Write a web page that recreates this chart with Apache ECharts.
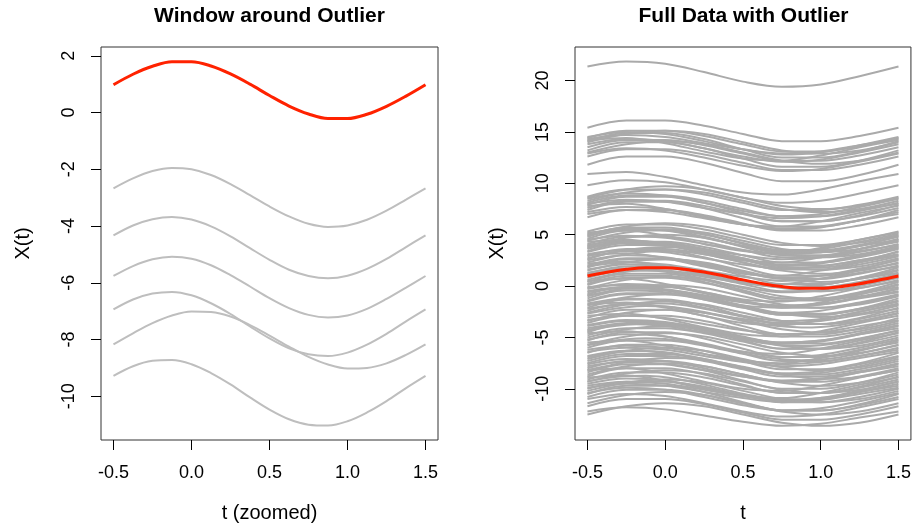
<!DOCTYPE html>
<html>
<head>
<meta charset="utf-8">
<script src="https://cdn.jsdelivr.net/npm/echarts@6.0.0/dist/echarts.min.js"></script>
<style>
html,body{margin:0;padding:0;background:#fff;}
#chart{width:914px;height:531px;}
</style>
</head>
<body>
<div id="chart"></div>
<script>
// ---- data ----
// fine sampling (used for the outlier and the window curves)
const tFine = [-0.5, -0.375, -0.25, -0.125, 0, 0.125, 0.25, 0.375, 0.5, 0.625, 0.75, 0.875, 1, 1.125, 1.25, 1.375, 1.5];
// coarse sampling (used for the remaining curves of the full data)
const tCoarse = [-0.5, -0.25, 0, 0.25, 0.5, 0.75, 1, 1.25, 1.5];
const xTicks = [-0.5, 0, 0.5, 1, 1.5];
const yTicksLeft = [-10, -8, -6, -4, -2, 0, 2];
const yTicksRight = [-10, -5, 0, 5, 10, 15, 20];

const titleLeft = 'Window around Outlier';
const titleRight = 'Full Data with Outlier';
const xNameLeft = 't (zoomed)';
const xNameRight = 't';
const yName = 'X(t)';

// the outlying curve (red)
const outlier = [0.98, 1.35, 1.63, 1.79, 1.79, 1.64, 1.36, 1.00, 0.60, 0.23, -0.05, -0.21, -0.21, -0.06, 0.22, 0.58, 0.98];

// curves visible in the zoomed window (fine sampling)
const windowCurves = [
  [-2.67, -2.32, -2.06, -1.95, -2.00, -2.20, -2.52, -2.91, -3.31, -3.66, -3.92, -4.03, -3.98, -3.78, -3.46, -3.07, -2.67],
  [-4.33, -3.98, -3.76, -3.68, -3.77, -4.01, -4.36, -4.78, -5.19, -5.54, -5.76, -5.84, -5.75, -5.51, -5.16, -4.74, -4.33],
  [-5.76, -5.41, -5.17, -5.08, -5.15, -5.38, -5.73, -6.13, -6.54, -6.89, -7.13, -7.22, -7.15, -6.92, -6.57, -6.17, -5.76],
  [-6.94, -6.59, -6.38, -6.32, -6.44, -6.72, -7.10, -7.54, -7.96, -8.31, -8.52, -8.58, -8.46, -8.18, -7.80, -7.36, -6.94],
  [-8.17, -7.78, -7.42, -7.15, -7.01, -7.03, -7.19, -7.49, -7.86, -8.25, -8.61, -8.88, -9.02, -9.00, -8.84, -8.54, -8.17],
  [-9.28, -8.94, -8.75, -8.72, -8.87, -9.18, -9.58, -10.04, -10.47, -10.81, -11.00, -11.03, -10.88, -10.57, -10.17, -9.71, -9.28]
];

// all other curves of the full data set (coarse sampling)
const otherCurves = [
  [21.36, 21.85, 21.63, 20.82, 19.89, 19.39, 19.61, 20.42, 21.36],
  [15.4, 16.1, 16.1, 15.6, 14.8, 14.1, 14.1, 14.6, 15.4],
  [14.5, 15.0, 14.8, 14.1, 13.3, 12.8, 13.0, 13.7, 14.5],
  [14.4, 15.1, 15.1, 14.6, 13.8, 13.1, 13.1, 13.6, 14.4],
  [14.3, 14.7, 14.5, 13.9, 13.3, 12.9, 13.1, 13.7, 14.3],
  [14.2, 14.4, 13.9, 13.1, 12.4, 12.2, 12.7, 13.5, 14.2],
  [14.1, 14.9, 14.9, 14.3, 13.3, 12.5, 12.5, 13.1, 14.1],
  [14.0, 14.8, 15.1, 14.8, 14.0, 13.2, 12.9, 13.2, 14.0],
  [13.8, 14.3, 14.1, 13.4, 12.6, 12.1, 12.3, 13.0, 13.8],
  [13.5, 14.2, 14.2, 13.7, 12.9, 12.2, 12.2, 12.7, 13.5],
  [13.2, 14.0, 14.0, 13.4, 12.4, 11.6, 11.6, 12.2, 13.2],
  [13.0, 13.8, 14.1, 13.8, 13.0, 12.2, 11.9, 12.2, 13.0],
  [12.9, 13.4, 13.2, 12.5, 11.7, 11.2, 11.4, 12.1, 12.9],
  [12.6, 13.3, 13.3, 12.8, 12.0, 11.3, 11.3, 11.8, 12.6],
  [11.8, 12.6, 12.6, 12.0, 11.0, 10.2, 10.2, 10.8, 11.8],
  [10.9, 11.1, 10.6, 9.8, 9.1, 8.9, 9.4, 10.2, 10.9],
  [9.8, 10.3, 10.1, 9.4, 8.6, 8.1, 8.3, 9.0, 9.8],
  [8.7, 9.4, 9.4, 8.9, 8.1, 7.4, 7.4, 7.9, 8.7],
  [8.6, 9.4, 9.7, 9.4, 8.6, 7.8, 7.5, 7.8, 8.6],
  [8.5, 9.0, 8.8, 8.1, 7.3, 6.8, 7.0, 7.7, 8.5],
  [8.3, 9.1, 9.4, 9.1, 8.3, 7.5, 7.2, 7.5, 8.3],
  [8.1, 8.8, 8.8, 8.3, 7.5, 6.8, 6.8, 7.3, 8.1],
  [8.0, 8.4, 8.2, 7.6, 7.0, 6.6, 6.8, 7.4, 8.0],
  [7.9, 8.7, 8.7, 8.1, 7.1, 6.3, 6.3, 6.9, 7.9],
  [7.8, 8.0, 7.5, 6.7, 6.0, 5.8, 6.3, 7.1, 7.8],
  [7.6, 8.3, 8.3, 7.8, 7.0, 6.3, 6.3, 6.8, 7.6],
  [7.4, 8.2, 8.2, 7.6, 6.6, 5.8, 5.8, 6.4, 7.4],
  [7.2, 7.7, 7.5, 6.8, 6.0, 5.5, 5.7, 6.4, 7.2],
  [7.0, 7.4, 7.2, 6.6, 6.0, 5.6, 5.8, 6.4, 7.0],
  [6.7, 7.4, 7.4, 6.9, 6.1, 5.4, 5.4, 5.9, 6.7],
  [5.3, 6.0, 6.0, 5.5, 4.7, 4.0, 4.0, 4.5, 5.3],
  [5.2, 5.4, 4.9, 4.1, 3.4, 3.2, 3.7, 4.5, 5.2],
  [5.1, 5.6, 5.4, 4.7, 3.9, 3.4, 3.6, 4.3, 5.1],
  [5.0, 5.8, 6.1, 5.8, 5.0, 4.2, 3.9, 4.2, 5.0],
  [4.9, 5.7, 5.7, 5.1, 4.1, 3.3, 3.3, 3.9, 4.9],
  [4.8, 5.5, 5.5, 5.0, 4.2, 3.5, 3.5, 4.0, 4.8],
  [4.6, 5.4, 5.4, 4.8, 3.8, 3.0, 3.0, 3.6, 4.6],
  [4.5, 4.9, 4.7, 4.1, 3.5, 3.1, 3.3, 3.9, 4.5],
  [4.4, 5.2, 5.5, 5.2, 4.4, 3.6, 3.3, 3.6, 4.4],
  [4.3, 4.5, 4.0, 3.2, 2.5, 2.3, 2.8, 3.6, 4.3],
  [4.1, 4.8, 4.8, 4.3, 3.5, 2.8, 2.8, 3.3, 4.1],
  [4.0, 4.4, 4.2, 3.6, 3.0, 2.6, 2.8, 3.4, 4.0],
  [3.9, 4.7, 5.0, 4.7, 3.9, 3.1, 2.8, 3.1, 3.9],
  [3.8, 4.3, 4.1, 3.4, 2.6, 2.1, 2.3, 3.0, 3.8],
  [3.7, 4.2, 4.0, 3.3, 2.5, 2.0, 2.2, 2.9, 3.7],
  [3.6, 4.3, 4.3, 3.8, 3.0, 2.3, 2.3, 2.8, 3.6],
  [3.4, 4.2, 4.2, 3.6, 2.6, 1.8, 1.8, 2.4, 3.4],
  [3.3, 4.0, 4.0, 3.5, 2.7, 2.0, 2.0, 2.5, 3.3],
  [3.1, 3.5, 3.3, 2.7, 2.1, 1.7, 1.9, 2.5, 3.1],
  [3.0, 3.2, 2.7, 1.9, 1.2, 1.0, 1.5, 2.3, 3.0],
  [2.9, 3.6, 3.6, 3.1, 2.3, 1.6, 1.6, 2.1, 2.9],
  [2.7, 3.5, 3.8, 3.5, 2.7, 1.9, 1.6, 1.9, 2.7],
  [2.6, 3.4, 3.4, 2.8, 1.8, 1.0, 1.0, 1.6, 2.6],
  [2.5, 3.0, 2.8, 2.1, 1.3, 0.8, 1.0, 1.7, 2.5],
  [2.3, 3.1, 3.4, 3.1, 2.3, 1.5, 1.2, 1.5, 2.3],
  [2.2, 2.4, 1.9, 1.1, 0.4, 0.2, 0.7, 1.5, 2.2],
  [2.0, 2.7, 2.7, 2.2, 1.4, 0.7, 0.7, 1.2, 2.0],
  [1.9, 2.3, 2.1, 1.5, 0.9, 0.5, 0.7, 1.3, 1.9],
  [1.8, 2.6, 2.6, 2.0, 1.0, 0.2, 0.2, 0.8, 1.8],
  [1.6, 2.1, 1.9, 1.2, 0.4, -0.1, 0.1, 0.8, 1.6],
  [1.5, 2.3, 2.6, 2.3, 1.5, 0.7, 0.4, 0.7, 1.5],
  [1.3, 1.7, 1.5, 0.9, 0.3, -0.1, 0.1, 0.7, 1.3],
  [1.2, 1.9, 1.9, 1.4, 0.6, -0.1, -0.1, 0.4, 1.2],
  [1.1, 1.6, 1.4, 0.7, -0.1, -0.6, -0.4, 0.3, 1.1],
  [0.8, 1.5, 1.5, 1.0, 0.2, -0.5, -0.5, 0.0, 0.8],
  [0.6, 1.4, 1.7, 1.4, 0.6, -0.2, -0.5, -0.2, 0.6],
  [0.5, 0.7, 0.2, -0.6, -1.3, -1.5, -1.0, -0.2, 0.5],
  [0.4, 1.2, 1.2, 0.6, -0.4, -1.2, -1.2, -0.6, 0.4],
  [0.2, 1.0, 1.0, 0.4, -0.6, -1.4, -1.4, -0.8, 0.2],
  [0.1, 0.8, 0.8, 0.3, -0.5, -1.2, -1.2, -0.7, 0.1],
  [-0.1, 0.1, -0.4, -1.2, -1.9, -2.1, -1.6, -0.8, -0.1],
  [-0.2, 0.6, 0.9, 0.6, -0.2, -1.0, -1.3, -1.0, -0.2],
  [-0.3, 0.2, 0.0, -0.7, -1.5, -2.0, -1.8, -1.1, -0.3],
  [-0.5, -0.1, -0.3, -0.9, -1.5, -1.9, -1.7, -1.1, -0.5],
  [-0.6, -0.2, -0.4, -1.0, -1.6, -2.0, -1.8, -1.2, -0.6],
  [-0.8, -0.1, -0.1, -0.6, -1.4, -2.1, -2.1, -1.6, -0.8],
  [-0.9, -0.4, -0.6, -1.3, -2.1, -2.6, -2.4, -1.7, -0.9],
  [-1.0, -0.2, 0.1, -0.2, -1.0, -1.8, -2.1, -1.8, -1.0],
  [-1.2, -0.4, -0.4, -1.0, -2.0, -2.8, -2.8, -2.2, -1.2],
  [-1.4, -0.7, -0.7, -1.2, -2.0, -2.7, -2.7, -2.2, -1.4],
  [-1.5, -0.8, -0.8, -1.3, -2.1, -2.8, -2.8, -2.3, -1.5],
  [-1.7, -1.2, -1.4, -2.1, -2.9, -3.4, -3.2, -2.5, -1.7],
  [-1.8, -1.6, -2.1, -2.9, -3.6, -3.8, -3.3, -2.5, -1.8],
  [-1.9, -1.1, -0.8, -1.1, -1.9, -2.7, -3.0, -2.7, -1.9],
  [-2.1, -1.3, -1.3, -1.9, -2.9, -3.7, -3.7, -3.1, -2.1],
  [-2.2, -1.8, -2.0, -2.6, -3.2, -3.6, -3.4, -2.8, -2.2],
  [-2.4, -1.7, -1.7, -2.2, -3.0, -3.7, -3.7, -3.2, -2.4],
  [-2.6, -1.8, -1.5, -1.8, -2.6, -3.4, -3.7, -3.4, -2.6],
  [-2.9, -2.7, -3.2, -4.0, -4.7, -4.9, -4.4, -3.6, -2.9],
  [-3.1, -2.3, -2.3, -2.9, -3.9, -4.7, -4.7, -4.1, -3.1],
  [-3.3, -2.9, -3.1, -3.7, -4.3, -4.7, -4.5, -3.9, -3.3],
  [-3.4, -2.6, -2.3, -2.6, -3.4, -4.2, -4.5, -4.2, -3.4],
  [-3.6, -2.9, -2.9, -3.4, -4.2, -4.9, -4.9, -4.4, -3.6],
  [-3.8, -3.3, -3.5, -4.2, -5.0, -5.5, -5.3, -4.6, -3.8],
  [-3.9, -3.4, -3.6, -4.3, -5.1, -5.6, -5.4, -4.7, -3.9],
  [-4.1, -3.7, -3.9, -4.5, -5.1, -5.5, -5.3, -4.7, -4.1],
  [-4.3, -3.6, -3.6, -4.1, -4.9, -5.6, -5.6, -5.1, -4.3],
  [-4.5, -3.7, -3.7, -4.3, -5.3, -6.1, -6.1, -5.5, -4.5],
  [-4.6, -4.4, -4.9, -5.7, -6.4, -6.6, -6.1, -5.3, -4.6],
  [-4.8, -4.1, -4.1, -4.6, -5.4, -6.1, -6.1, -5.6, -4.8],
  [-5.0, -4.2, -3.9, -4.2, -5.0, -5.8, -6.1, -5.8, -5.0],
  [-5.2, -4.7, -4.9, -5.6, -6.4, -6.9, -6.7, -6.0, -5.2],
  [-5.3, -4.5, -4.5, -5.1, -6.1, -6.9, -6.9, -6.3, -5.3],
  [-5.5, -5.3, -5.8, -6.6, -7.3, -7.5, -7.0, -6.2, -5.5],
  [-5.7, -4.9, -4.6, -4.9, -5.7, -6.5, -6.8, -6.5, -5.7],
  [-6.0, -5.3, -5.3, -5.8, -6.6, -7.3, -7.3, -6.8, -6.0],
  [-6.2, -5.8, -6.0, -6.6, -7.2, -7.6, -7.4, -6.8, -6.2],
  [-6.4, -6.0, -6.2, -6.8, -7.4, -7.8, -7.6, -7.0, -6.4],
  [-6.5, -5.7, -5.7, -6.3, -7.3, -8.1, -8.1, -7.5, -6.5],
  [-6.8, -6.3, -6.5, -7.2, -8.0, -8.5, -8.3, -7.6, -6.8],
  [-7.1, -6.3, -6.0, -6.3, -7.1, -7.9, -8.2, -7.9, -7.1],
  [-7.3, -6.6, -6.6, -7.1, -7.9, -8.6, -8.6, -8.1, -7.3],
  [-7.5, -6.8, -6.8, -7.3, -8.1, -8.8, -8.8, -8.3, -7.5],
  [-7.6, -7.1, -7.3, -8.0, -8.8, -9.3, -9.1, -8.4, -7.6],
  [-7.8, -7.4, -7.6, -8.2, -8.8, -9.2, -9.0, -8.4, -7.8],
  [-8.0, -7.3, -7.3, -7.8, -8.6, -9.3, -9.3, -8.8, -8.0],
  [-8.2, -8.0, -8.5, -9.3, -10.0, -10.2, -9.7, -8.9, -8.2],
  [-8.4, -7.6, -7.6, -8.2, -9.2, -10.0, -10.0, -9.4, -8.4],
  [-8.6, -7.8, -7.5, -7.8, -8.6, -9.4, -9.7, -9.4, -8.6],
  [-8.8, -8.0, -8.0, -8.6, -9.6, -10.4, -10.4, -9.8, -8.8],
  [-8.9, -8.7, -9.2, -10.0, -10.7, -10.9, -10.4, -9.6, -8.9],
  [-9.1, -8.4, -8.4, -8.9, -9.7, -10.4, -10.4, -9.9, -9.1],
  [-9.3, -8.5, -8.2, -8.5, -9.3, -10.1, -10.4, -10.1, -9.3],
  [-9.5, -9.0, -9.2, -9.9, -10.7, -11.2, -11.0, -10.3, -9.5],
  [-9.7, -9.3, -9.5, -10.1, -10.7, -11.1, -10.9, -10.3, -9.7],
  [-9.9, -9.5, -9.7, -10.3, -10.9, -11.3, -11.1, -10.5, -9.9],
  [-10.0, -9.3, -9.3, -9.8, -10.6, -11.3, -11.3, -10.8, -10.0],
  [-10.2, -9.4, -9.1, -9.4, -10.2, -11.0, -11.3, -11.0, -10.2],
  [-10.4, -9.9, -10.1, -10.8, -11.6, -12.1, -11.9, -11.2, -10.4],
  [-10.5, -9.7, -9.7, -10.3, -11.3, -12.1, -12.1, -11.5, -10.5],
  [-10.8, -10.1, -10.1, -10.6, -11.4, -12.1, -12.1, -11.6, -10.8],
  [-11.0, -10.5, -10.7, -11.4, -12.2, -12.7, -12.5, -11.8, -11.0],
  [-11.4, -10.6, -10.3, -10.6, -11.4, -12.2, -12.5, -12.2, -11.4],
  [-11.7, -11.0, -11.0, -11.5, -12.3, -13.0, -13.0, -12.5, -11.7],
  [-12.2, -11.8, -12.0, -12.6, -13.2, -13.6, -13.4, -12.8, -12.2],
  [-12.5, -11.7, -11.4, -11.7, -12.5, -13.3, -13.6, -13.3, -12.5]
];

// ---- chart ----
const FONT = '"Liberation Sans", Arial, Helvetica, sans-serif';
const toPts = (ts, arr) => ts.map((t, i) => [t, arr[i]]);
const fmt1 = v => v.toFixed(1);

function xAxisCfg(gi, name) {
  return {
    gridIndex: gi, type: 'value', min: -0.58, max: 1.58,
    axisLine: {show: false, onZero: false}, splitLine: {show: false},
    axisTick: {customValues: xTicks, length: 10, lineStyle: {color: '#000', width: 1}},
    axisLabel: {customValues: xTicks, formatter: fmt1, margin: 24, fontSize: 18, color: '#000', fontFamily: FONT},
    name: name, nameLocation: 'middle', nameGap: 63,
    nameTextStyle: {fontSize: 20, color: '#000', fontFamily: FONT}
  };
}
function yAxisCfg(gi, min, max, ticks) {
  return {
    gridIndex: gi, type: 'value', min: min, max: max,
    axisLine: {show: false, onZero: false}, splitLine: {show: false},
    axisTick: {customValues: ticks, length: 10, lineStyle: {color: '#000', width: 1}},
    axisLabel: {customValues: ticks, rotate: 90, margin: 23, fontSize: 18, color: '#000', fontFamily: FONT},
    name: yName, nameLocation: 'middle', nameGap: 68,
    nameTextStyle: {fontSize: 20, color: '#000', fontFamily: FONT}
  };
}

function lineSeries(gi, ts, arr, color, width, z) {
  return {
    type: 'line', xAxisIndex: gi, yAxisIndex: gi, data: toPts(ts, arr),
    showSymbol: false, smooth: 0.35, silent: true,
    lineStyle: {color: color, width: width}, z: z
  };
}

const series = [];
windowCurves.forEach(c => series.push(lineSeries(0, tFine, c, '#BEBEBE', 2, 2)));
series.push(lineSeries(0, tFine, outlier, '#FF2200', 3, 3));
otherCurves.forEach(c => series.push(lineSeries(1, tCoarse, c, '#AAAAAA', 2, 2)));
windowCurves.forEach(c => series.push(lineSeries(1, tFine, c, '#AAAAAA', 2, 2)));
series.push(lineSeries(1, tFine, outlier, '#FF2200', 3, 3));

const chart = echarts.init(document.getElementById('chart'), null, {renderer: 'canvas'});
chart.setOption({
  animation: false,
  backgroundColor: '#fff',
  graphic: [
    {type: 'text', x: 269.5, y: 16, style: {text: titleLeft, fontSize: 21, fontWeight: 'bold', fontFamily: FONT, fill: '#000', align: 'center', verticalAlign: 'middle'}},
    {type: 'text', x: 743.5, y: 16, style: {text: titleRight, fontSize: 21, fontWeight: 'bold', fontFamily: FONT, fill: '#000', align: 'center', verticalAlign: 'middle'}}
  ],
  grid: [
    {left: 101, top: 47, width: 337, height: 393, show: true, borderColor: '#333', borderWidth: 1, backgroundColor: 'transparent'},
    {left: 575, top: 47, width: 337.5, height: 393, show: true, borderColor: '#333', borderWidth: 1, backgroundColor: 'transparent'}
  ],
  xAxis: [xAxisCfg(0, xNameLeft), xAxisCfg(1, xNameRight)],
  yAxis: [yAxisCfg(0, -11.54, 2.31, yTicksLeft), yAxisCfg(1, -14.98, 23.26, yTicksRight)],
  series: series
});
</script>
</body>
</html>
